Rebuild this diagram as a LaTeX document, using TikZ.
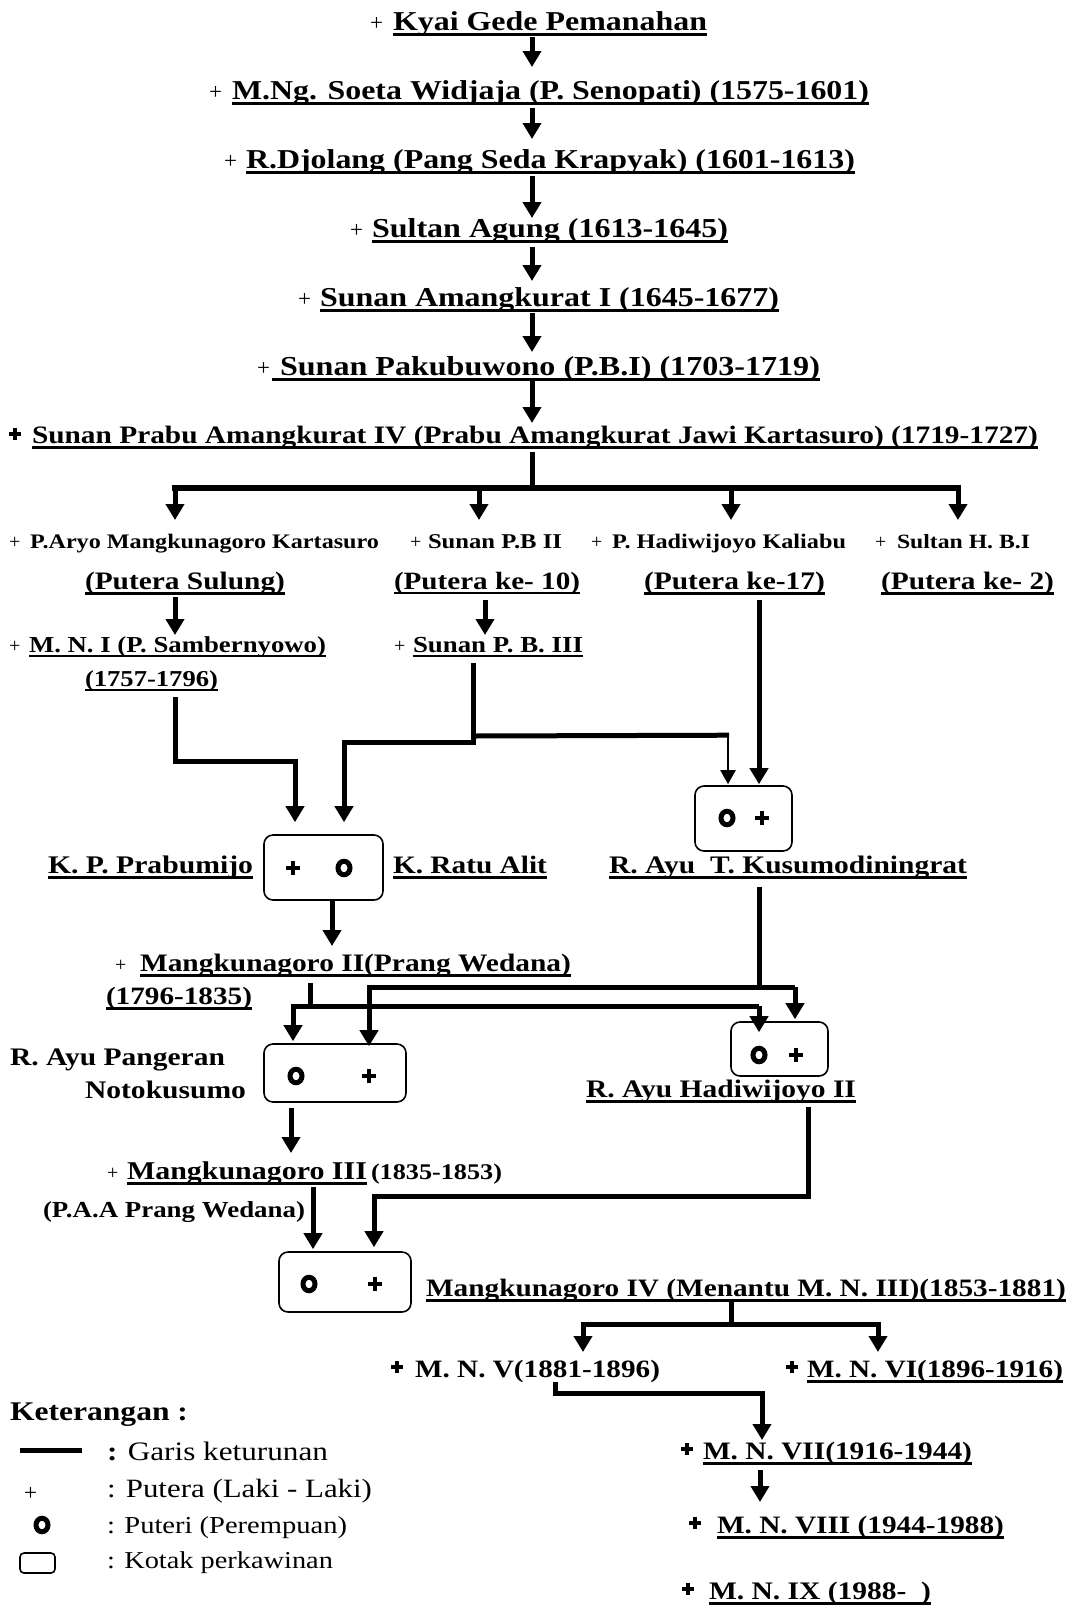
\documentclass[tikz,border=0pt]{standalone}
\usepackage{fontspec}
\usepackage{graphicx}
\setmainfont{Liberation Serif}
\usetikzlibrary{arrows.meta,shapes.geometric}
\newsavebox\fitbx
\newsavebox\ulbx
\def\xst{1.17}
\newcommand\fitw[2]{\sbox\fitbx{\fontsize{10pt}{12pt}\selectfont #2}%
  \pgfmathsetmacro\fitsz{10*#1/(\xst*\the\wd\fitbx)}%
  \fontsize{\fitsz pt}{\fitsz pt}\selectfont\scalebox{\xst}[1]{#2}}
\newcommand\myul[1]{\sbox\ulbx{#1}\rlap{\rule[-0.22em]{\wd\ulbx}{0.11em}}\usebox\ulbx}
\tikzset{
  tx/.style={anchor=base west, inner sep=0pt, outer sep=0pt, font=\bfseries},
  txr/.style={anchor=base west, inner sep=0pt, outer sep=0pt},
  pls/.style={anchor=base west, inner sep=0pt, font=\fontsize{23pt}{23pt}\selectfont},
  plss/.style={anchor=base west, inner sep=0pt, font=\fontsize{20pt}{20pt}\selectfont},
  ln/.style={line width=5pt, line join=miter},
  arr/.style={ln, -{Triangle[width=18pt,length=16pt]}},
  tarr/.style={line width=2pt, -{Triangle[width=15pt,length=14pt]}},
  mbox/.style={draw, line width=1.6pt, rounded corners=9pt, inner sep=0pt},
  fem/.style={ellipse, draw, line width=5pt, minimum width=12pt, minimum height=13.5pt, inner sep=0pt},
  male/.pic={\draw[line width=4pt] (-7,0) -- (7,0) (0,-7) -- (0,7);},
  bplus/.pic={\draw[line width=3.8pt] (-6,0) -- (6,0) (0,-6) -- (0,6);}
}
\begin{document}
\begin{tikzpicture}[x=1pt,y=-1pt]
\fill[white] (0,0) rectangle (1071,1607);
\useasboundingbox (0,0) rectangle (1071,1607);

% ---------- main line ----------
\node[tx] (c1) at (393,30) {\fitw{314}{\myul{Kyai Gede Pemanahan}}};
\node[pls] (c1p) at (370,30) {+};
\node[tx] (c2) at (232,99) {\fitw{637}{\myul{M.Ng. Soeta Widjaja (P. Senopati) (1575-1601)}}};
\node[pls] (c2p) at (209,99) {+};
\node[tx] (c3) at (246,168) {\fitw{609}{\myul{R.Djolang (Pang Seda Krapyak) (1601-1613)}}};
\node[pls] (c3p) at (224,168) {+};
\node[tx] (c4) at (372,237) {\fitw{356}{\myul{Sultan Agung (1613-1645)}}};
\node[pls] (c4p) at (350,237) {+};
\node[tx] (c5) at (320,306) {\fitw{459}{\myul{Sunan Amangkurat I (1645-1677)}}};
\node[pls] (c5p) at (298,306) {+};
\node[tx] (c6) at (272,375) {\fitw{548}{\myul{\ Sunan Pakubuwono (P.B.I) (1703-1719)}}};
\node[pls] (c6p) at (257,375) {+};
\node[tx] (c7) at (32,443) {\fitw{1006}{\myul{Sunan Prabu Amangkurat IV (Prabu Amangkurat Jawi Kartasuro) (1719-1727)}}};
\pic at (15,434) {bplus};

\draw[arr] ([xshift=139pt,yshift=-7pt]c1.base west) -- ([xshift=300pt,yshift=32pt]c2.base west);
\draw[arr] ([xshift=300pt,yshift=-9pt]c2.base west) -- ([xshift=286pt,yshift=29pt]c3.base west);
\draw[arr] ([xshift=286pt,yshift=-8pt]c3.base west) -- ([xshift=160pt,yshift=19pt]c4.base west);
\draw[arr] ([xshift=160pt,yshift=-10pt]c4.base west) -- ([xshift=212pt,yshift=25pt]c5.base west);
\draw[arr] ([xshift=212pt,yshift=-7pt]c5.base west) -- ([xshift=260pt,yshift=23pt]c6.base west);
\draw[arr] ([xshift=260pt,yshift=-5pt]c6.base west) -- ([xshift=500pt,yshift=20pt]c7.base west);

% ---------- children of Amangkurat IV ----------
\node[tx] (k1) at (30,548) {\fitw{349}{P.Aryo Mangkunagoro Kartasuro}};
\node[plss] (k1p) at (9,548) {+};
\node[tx] (k2) at (428,548) {\fitw{134}{Sunan P.B II}};
\node[plss] (k2p) at (410,548) {+};
\node[tx] (k3) at (612,548) {\fitw{234}{P. Hadiwijoyo Kaliabu}};
\node[plss] (k3p) at (591,548) {+};
\node[tx] (k4) at (897,548) {\fitw{133}{Sultan H. B.I}};
\node[plss] (k4p) at (875,548) {+};

\node[tx] (p1) at (85,589) {\fitw{200}{\myul{(Putera Sulung)}}};
\node[tx] (p2) at (394,589) {\fitw{186}{\myul{(Putera ke- 10)}}};
\node[tx] (p3) at (644,589) {\fitw{181}{\myul{(Putera ke-17)}}};
\node[tx] (p4) at (881,589) {\fitw{173}{\myul{(Putera ke- 2)}}};

\coordinate (jb) at (532,488);
\coordinate (bl) at (172,488);
\coordinate (br) at (961,488);
\coordinate (d1) at (175,488);
\coordinate (d2) at (479,488);
\coordinate (d3) at (731,488);
\coordinate (d4) at (958,488);
\draw[ln] ([xshift=500pt,yshift=-9pt]c7.base west) -- (jb);
\draw[line width=6.5pt] (bl) -- (br);
\draw[arr] (d1) -- ([xshift=145pt,yshift=28pt]k1.base west);
\draw[arr] (d2) -- ([xshift=51pt,yshift=28pt]k2.base west);
\draw[arr] (d3) -- ([xshift=119pt,yshift=28pt]k3.base west);
\draw[arr] (d4) -- ([xshift=61pt,yshift=28pt]k4.base west);

% ---------- third row ----------
\node[tx] (m1) at (29,652) {\fitw{297}{\myul{M. N. I (P. Sambernyowo)}}};
\node[plss] (m1p) at (9,652) {+};
\node[tx] (m2) at (413,652) {\fitw{170}{\myul{Sunan P. B. III}}};
\node[plss] (m2p) at (394,652) {+};
\node[tx] (m3) at (85,686) {\fitw{133}{\myul{(1757-1796)}}};

\draw[arr] ([xshift=90pt,yshift=-8pt]p1.base west) -- ([xshift=146pt,yshift=17pt]m1.base west);
\draw[arr] ([xshift=91pt,yshift=-11pt]p2.base west) -- ([xshift=72pt,yshift=17pt]m2.base west);

% ---------- marriage boxes, first level ----------
\node[mbox, minimum width=97pt, minimum height=65pt] (boxA) at (743.5,818.5) {};
\node[fem] (fA) at (727,818) {};
\pic at (762,818) {male};
\node[mbox, minimum width=119pt, minimum height=65pt] (boxB) at (323.5,867.5) {};
\pic at (293,868) {male};
\node[fem] (fB) at (344,868) {};

\node[tx] (b1) at (48,873) {\fitw{205}{\myul{K. P. Prabumijo}}};
\node[tx] (b2) at (393,873) {\fitw{154}{\myul{K. Ratu Alit}}};
\node[tx] (b3) at (609,873) {\fitw{358}{\myul{R. Ayu\ \ T. Kusumodiningrat}}};

\draw[arr] ([xshift=90pt,yshift=-11pt]m3.base west) |- ([xshift=-28.5pt,yshift=73pt]boxB.north) -- ([xshift=-28.5pt,yshift=12pt]boxB.north);
\draw[arr] ([xshift=60pt,yshift=-11pt]m2.base west) |- ([xshift=20.5pt,yshift=92pt]boxB.north) -- ([xshift=20.5pt,yshift=12pt]boxB.north);
\draw[ln] ([xshift=60pt,yshift=-84pt]m2.base west) -- ([xshift=-14.5pt,yshift=50pt]boxA.north);
\draw[tarr] ([xshift=-15.5pt,yshift=52.5pt]boxA.north) -- ([xshift=-15.5pt,yshift=1pt]boxA.north);
\draw[arr] ([xshift=115pt,yshift=-11pt]p3.base west) -- ([xshift=15.5pt,yshift=1pt]boxA.north);

% ---------- Mangkunagoro II ----------
\node[tx] (g1) at (140,971) {\fitw{431}{\myul{Mangkunagoro II(Prang Wedana)}}};
\node[plss] (g1p) at (115,971) {+};
\node[tx] (g2) at (106,1004) {\fitw{146}{\myul{(1796-1835)}}};
\draw[arr] ([xshift=8.5pt]boxB.south) -- ([xshift=192pt,yshift=25pt]g1.base west);

\node[mbox, minimum width=142pt, minimum height=58pt] (boxB2) at (335,1073) {};
\node[fem] (fB2) at (296,1076) {};
\pic at (369,1076) {male};
\node[mbox, minimum width=97pt, minimum height=54pt] (boxC) at (779.5,1049) {};
\node[fem] (fC) at (759,1055) {};
\pic at (796,1055) {male};

\node[tx] (r1) at (10,1065) {\fitw{215}{R. Ayu Pangeran}};
\node[tx] (r2) at (85,1098) {\fitw{161}{Notokusumo}};
\node[tx] (h1) at (586,1097) {\fitw{270}{\myul{R. Ayu Hadiwijoyo II}}};

% Kusumodiningrat bus
\draw[ln] ([xshift=150pt,yshift=-14pt]b3.base west) -- ([xshift=150pt,yshift=-115pt]b3.base west);
\draw[arr] ([xshift=15.5pt,yshift=34pt]boxC.north) -| ([xshift=34pt,yshift=-3pt]boxB2.north);
\draw[arr] ([xshift=15.5pt,yshift=34pt]boxC.north) -- ([xshift=15.5pt,yshift=2pt]boxC.north);
% Mangkunagoro II bus
\draw[ln] ([xshift=170pt,yshift=-12pt]g1.base west) -- ([xshift=170pt,yshift=-36pt]g1.base west);
\draw[arr] ([xshift=-20.5pt,yshift=15pt]boxC.north) -| ([xshift=-42pt,yshift=2pt]boxB2.north);
\draw[arr] ([xshift=-20.5pt,yshift=15pt]boxC.north) -- ([xshift=-20.5pt,yshift=-11pt]boxC.north);

% ---------- Mangkunagoro III ----------
\node[tx] (t1) at (127,1179) {\fitw{240}{\myul{Mangkunagoro III}}};
\node[plss] (t1p) at (107,1179) {+};
\node[tx] (t2) at (371,1179) {\fitw{131}{(1835-1853)}};
\node[tx] (t3) at (43,1217) {\fitw{262}{(P.A.A Prang Wedana)}};
\draw[arr] ([xshift=-44pt,yshift=-5pt]boxB2.south) -- ([xshift=164pt,yshift=26pt]t1.base west);

\node[mbox, minimum width=132pt, minimum height=60pt] (boxD) at (345,1282) {};
\node[fem] (fD) at (309,1284) {};
\pic at (375,1284) {male};

\draw[arr] ([xshift=222pt,yshift=-10pt]h1.base west) |- ([xshift=29pt,yshift=55pt]boxD.north) -- ([xshift=29pt,yshift=4pt]boxD.north);
\draw[arr] ([xshift=186pt,yshift=-8pt]t1.base west) -- ([xshift=-32pt,yshift=2pt]boxD.north);

% ---------- Mangkunagoro IV and descendants ----------
\node[tx] (v1) at (426,1296) {\fitw{640}{\myul{Mangkunagoro IV (Menantu M. N. III)(1853-1881)}}};
\node[tx] (n5) at (415,1377) {\fitw{245}{M. N. V(1881-1896)}};
\pic at (397,1367) {bplus};
\node[tx] (n6) at (807,1377) {\fitw{256}{\myul{M. N. VI(1896-1916)}}};
\pic at (792,1367) {bplus};
\node[tx] (n7) at (703,1459) {\fitw{269}{\myul{M. N. VII(1916-1944)}}};
\pic at (687,1449) {bplus};
\node[tx] (n8) at (717,1533) {\fitw{287}{\myul{M. N. VIII (1944-1988)}}};
\pic at (695,1523) {bplus};
\node[tx] (n9) at (709,1599) {\fitw{222}{\myul{M. N. IX (1988-\ \ )}}};
\pic at (688,1589) {bplus};

\draw[ln] ([xshift=305pt,yshift=-6pt]v1.base west) -- ([xshift=305pt,yshift=-28pt]v1.base west);
\draw[arr] ([xshift=305pt,yshift=-28pt]v1.base west) -| ([xshift=168pt,yshift=25pt]n5.base west);
\draw[arr] ([xshift=305pt,yshift=-28pt]v1.base west) -| ([xshift=71pt,yshift=25pt]n6.base west);
\draw[arr] ([xshift=140pt,yshift=-5pt]n5.base west) |- ([xshift=59pt,yshift=66pt]n7.base west) -- ([xshift=59pt,yshift=19pt]n7.base west);
\draw[arr] ([xshift=57pt,yshift=-11pt]n7.base west) -- ([xshift=43pt,yshift=31pt]n8.base west);

% ---------- legend ----------
\node[tx] (kt) at (10,1420) {\fitw{178}{Keterangan :}};
\coordinate (lgA) at (20,1450);
\coordinate (lgB) at (82,1450);
\draw[line width=5pt] (lgA) -- (lgB);
\node[txr] (l1) at (107,1460) {\fitw{221}{\textbf{:} Garis keturunan}};
\node[pls] (lp) at (24,1500) {+};
\node[txr] (l2) at (107,1497) {\fitw{265}{: Putera (Laki - Laki)}};
\node[fem] (lf) at (42,1525) {};
\node[txr] (l3) at (107,1533) {\fitw{240}{: Puteri (Perempuan)}};
\node[mbox, rounded corners=4pt, minimum width=35pt, minimum height=20pt] (lb) at (37.5,1563) {};
\node[txr] (l4) at (107,1568) {\fitw{226}{: Kotak perkawinan}};
\end{tikzpicture}
\end{document}
